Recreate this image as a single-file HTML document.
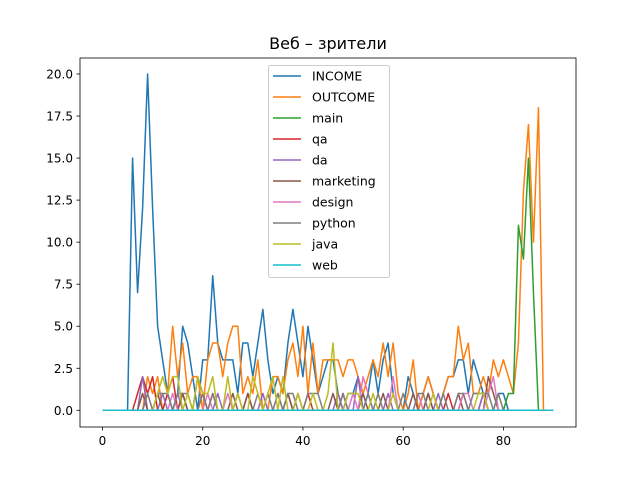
<!DOCTYPE html>
<html><head><meta charset="utf-8"><style>
body{margin:0;background:#fff;font-family:"Liberation Sans","DejaVu Sans",sans-serif}
svg text{font-family:"DejaVu Sans","Liberation Sans",sans-serif}
</style></head><body>
<svg id="chart" width="640" height="480" xmlns="http://www.w3.org/2000/svg"></svg>
<script>
const seriesNames = ["INCOME","OUTCOME","main","qa","da","marketing","design","python","java","web"];
const colors = ["#1f77b4","#ff7f0e","#2ca02c","#d62728","#9467bd","#8c564b","#e377c2","#7f7f7f","#bcbd22","#17becf"];
const xTicks = [0,20,40,60,80];
const yTicks = [0,2.5,5,7.5,10,12.5,15,17.5,20];
const income = [0,0,0,0,0,0,15,7,12,20,12,5,3,1,0,1,5,4,2,0,3,3,8,4,3,3,3,1,4,4,2,4,6,3,1,2,1,4,6,4,2,5,3,1,2,3,3,1,0,1,1,2,0,1,3,1,3,4,1,0,0,2,1,0,1,2,1,0,1,2,2,3,3,1,3,2,1,0,0,1,1,0,0,0,0,0,0,0,0,0,0];
const outcome = [0,0,0,0,0,0,0,0,0,2,1,2,0,1,5,2,4,1,2,2,0,3,4,4,2,4,5,5,1,2,1,3,0,0,2,2,1,3,4,2,5,1,4,1,3,3,3,3,2,3,3,2,1,2,3,2,4,2,4,1,0,1,3,0,1,2,1,0,1,2,2,5,3,4,1,1,2,1,3,2,3,2,1,4,13,17,10,18,0,0,0];
const mainS = [0,0,0,0,0,0,0,0,0,0,0,0,0,0,0,0,0,0,0,0,0,0,0,0,0,0,0,0,0,0,0,0,0,0,0,0,0,0,0,0,0,0,0,0,0,0,0,0,0,0,0,0,0,0,0,0,0,0,0,0,0,0,0,0,0,0,0,0,0,0,0,0,0,0,0,0,0,0,0,0,0,1,1,11,9,15,7,0,0,0,0];
const qa = [0,0,0,0,0,0,0,1,2,1,2,0,0,1,2,0,1,0,0,0,1,0,1,0,0,0,0,0,0,1,0,0,0,0,0,0,0,1,0,0,0,1,0,0,0,0,0,0,1,0,0,0,0,0,0,0,0,0,0,0,0,0,0,0,0,1,0,0,0,1,0,0,1,0,0,0,1,0,0,0,0,0,0,0,0,0,0,0,0,0,0];
const da = [0,0,0,0,0,0,0,0,2,0,0,0,1,0,0,1,0,0,0,0,0,0,0,1,0,0,0,0,0,0,0,0,1,0,0,0,0,0,0,0,0,0,0,0,0,0,0,1,0,0,0,2,0,0,0,0,0,1,0,0,0,0,0,0,0,0,0,1,0,0,0,0,0,0,0,0,1,0,0,0,0,0,0,0,0,0,0,0,0,0,0];
const marketing = [0,0,0,0,0,0,0,0,1,0,0,1,0,0,0,0,1,0,0,2,1,0,0,0,0,0,1,0,0,1,0,0,0,0,0,0,0,1,0,1,0,0,0,0,0,0,1,0,0,0,0,0,1,0,0,0,1,0,0,0,0,0,1,0,0,1,0,0,0,0,0,1,0,0,0,0,0,2,1,0,0,0,0,0,0,0,0,0,0,0,0];
const design = [0,0,0,0,0,0,0,0,0,1,0,0,0,0,1,0,0,0,0,0,0,1,0,0,0,1,0,0,0,0,0,0,0,0,0,1,0,0,0,0,0,0,0,0,0,0,0,0,0,0,1,0,2,1,0,0,0,0,2,0,0,0,0,1,0,0,0,0,0,0,0,0,1,1,0,0,0,1,2,0,0,0,0,0,0,0,0,0,0,0,0];
const python = [0,0,0,0,0,0,0,0,0,1,0,1,1,1,0,1,1,1,0,0,1,0,1,0,0,0,0,1,0,0,0,1,0,1,0,1,0,1,1,0,0,1,1,1,0,0,0,0,1,0,0,0,0,1,0,1,0,0,0,0,1,0,0,1,1,0,0,0,1,0,0,1,1,0,1,1,1,1,0,1,0,0,0,0,0,0,0,0,0,0,0];
const java = [0,0,0,0,0,0,0,0,0,0,0,1,2,1,2,2,0,1,0,2,1,1,2,0,0,2,0,1,0,0,2,1,0,1,2,0,2,0,0,1,0,0,1,0,0,1,4,0,0,1,1,1,0,0,1,0,0,0,1,0,0,0,0,0,0,0,1,0,0,0,0,0,0,0,0,1,1,0,0,0,0,0,0,0,0,0,0,0,0,0,0];
const web = new Array(91).fill(0);
const allSeries = [income,outcome,mainS,qa,da,marketing,design,python,java,web];

const svg = document.getElementById('chart');
const NS = "http://www.w3.org/2000/svg";
const L=80,R=576,T=58,B=427;
const xs = v => 102.5 + v*(553.5-102.5)/90;
const ys = v => 410.3 - v*(410.3-74)/20;
function mk(tag, attrs, parent){const e=document.createElementNS(NS,tag);for(const k in attrs)e.setAttribute(k,attrs[k]);(parent||svg).appendChild(e);return e;}

mk('rect',{x:0,y:0,width:640,height:480,fill:'#fff'});
const title = mk('text',{x:328,y:49,'text-anchor':'middle','font-size':16,fill:'#000'});
title.textContent='Веб – зрители';



const plot = mk('g',{});


allSeries.forEach((s,i)=>{
  const d = s.map((v,x)=>(x?'L':'M')+xs(x).toFixed(2)+','+ys(v).toFixed(2)).join('');
  const p = mk('path',{d:d,fill:'none',stroke:colors[i],'stroke-width':1.5,'stroke-linejoin':'round'},plot);
  
  
});

const frame = mk('rect',{x:L,y:T,width:R-L,height:B-T,fill:'none',stroke:'#000','stroke-width':0.8});



const xg = mk('g',{});


xTicks.forEach(t=>{
  mk('line',{x1:xs(t),x2:xs(t),y1:B,y2:B+3.5,stroke:'#000','stroke-width':0.8},xg);
  const tx = mk('text',{x:xs(t),y:B+18,'text-anchor':'middle','font-size':12,fill:'#000'},xg);
  tx.textContent=t;
  
  
});
const yg = mk('g',{});


yTicks.forEach(t=>{
  mk('line',{x1:L-3.5,x2:L,y1:ys(t),y2:ys(t),stroke:'#000','stroke-width':0.8},yg);
  const tx = mk('text',{x:L-7,y:ys(t)+4.5,'text-anchor':'end','font-size':12,fill:'#000'},yg);
  tx.textContent=t.toFixed(1);
  
  
});

const lg = mk('g',{});


mk('rect',{x:268.5,y:65.5,width:121,height:212,rx:2,fill:'#fff','fill-opacity':0.8,stroke:'#ccc','stroke-width':1},lg);
seriesNames.forEach((n,i)=>{
  const y = 76 + i*21;
  const g = mk('g',{},lg);
  
  
  mk('line',{x1:273,x2:301,y1:y,y2:y,stroke:colors[i],'stroke-width':1.5},g);
  const tx = mk('text',{x:312,y:y+4.5,'font-size':12.5,fill:'#000'},g);
  tx.textContent=n;
});
</script>
</body></html>
